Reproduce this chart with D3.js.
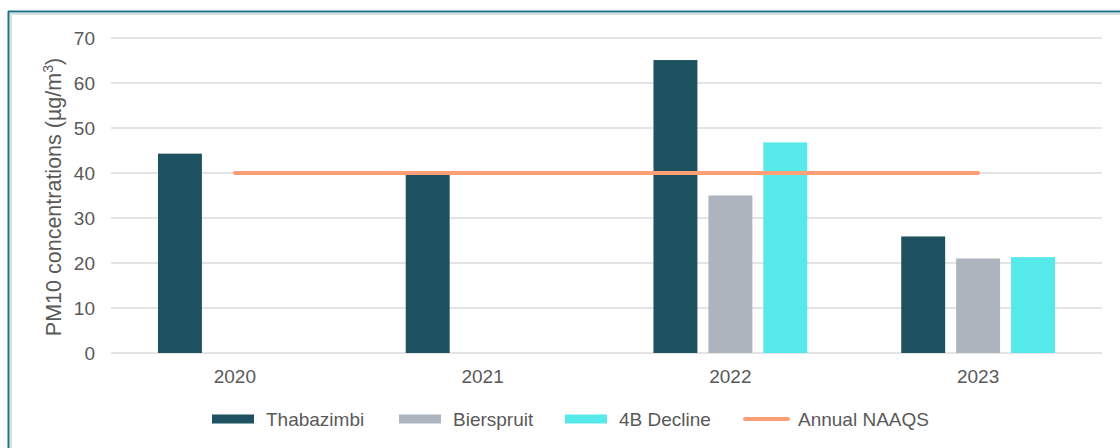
<!DOCTYPE html>
<html><head><meta charset="utf-8">
<script src="https://cdn.jsdelivr.net/npm/d3@7"></script>
<style>body{margin:0;background:#fff}svg{display:block}text{font-family:"Liberation Sans",Arial,sans-serif;fill:#595959}</style>
</head><body>
<svg id="c" width="1120" height="448"></svg>
<script>
const categories = ["2020","2021","2022","2023"];
const seriesNames = ["Thabazimbi","Bierspruit","4B Decline"];
const thabazimbi = [44.3, 39.6, 65.1, 25.9];
const bierspruit = [null, null, 35.0, 21.0];
const decline4B = [null, null, 46.8, 21.3];
const naaqs = [40, 40, 40, 40];
const yTicks = [0,10,20,30,40,50,60,70];
const legendLabels = ["Thabazimbi","Bierspruit","4B Decline","Annual NAAQS"];
const colors = ["#1F5261","#ACB5BE","#55E9E9"];
const lineColor = "#FF9F78";

(function(){
const seriesValues = [thabazimbi, bierspruit, decline4B];
const svg = d3.select("#c");

// frame
svg.append("line").attr("x1",8).attr("x2",1120).attr("y1",11.5).attr("y2",11.5).attr("stroke","#1C7486").attr("stroke-width",2);
svg.append("line").attr("x1",10).attr("x2",1120).attr("y1",14).attr("y2",14).attr("stroke","#D8E0E3").attr("stroke-width",2);
svg.append("line").attr("x1",8.5).attr("x2",8.5).attr("y1",11).attr("y2",448).attr("stroke","#1C7486").attr("stroke-width",2);
svg.append("line").attr("x1",11).attr("x2",11).attr("y1",13).attr("y2",448).attr("stroke","#D8E0E3").attr("stroke-width",2);

const mLeft = 111, mRight = 1102, mTop = 38, mBottom = 353;
const x0 = d3.scaleBand().domain(categories).range([mLeft,mRight]).paddingInner(0).paddingOuter(0);
const x1 = d3.scaleBand().domain(seriesNames).range([0,x0.bandwidth()]).paddingInner(0.2).paddingOuter(0.855);
const y = d3.scaleLinear().domain([0,70]).range([mBottom,mTop]);

// grid
svg.append("g").selectAll("line").data(yTicks).join("line")
  .attr("x1",mLeft).attr("x2",mRight).attr("y1",d=>y(d)).attr("y2",d=>y(d))
  .attr("stroke","#E4E4E4").attr("stroke-width",2);

// y axis labels
const yAxis = svg.append("g").attr("transform",`translate(${mLeft},0)`)
  .call(d3.axisLeft(y).tickValues(yTicks).tickSize(0).tickPadding(16));
yAxis.select(".domain").remove();
yAxis.selectAll("text").attr("font-size",19).attr("fill","#595959").attr("font-family","Liberation Sans, Arial, sans-serif");

// x axis labels
const xAxis = svg.append("g").attr("transform",`translate(0,${mBottom})`)
  .call(d3.axisBottom(x0).tickSize(0).tickPadding(17));
xAxis.select(".domain").remove();
xAxis.selectAll("text").attr("font-size",19).attr("fill","#595959").attr("font-family","Liberation Sans, Arial, sans-serif");

// bars
seriesNames.forEach((s,si)=>{
  const data = categories.map((c,i)=>({c, v: seriesValues[si][i]})).filter(d=>d.v!=null);
  svg.append("g").selectAll("rect").data(data).join("rect")
    .attr("x",d=>x0(d.c)+x1(s)).attr("width",x1.bandwidth())
    .attr("y",d=>y(d.v)).attr("height",d=>y(0)-y(d.v))
    .attr("fill",colors[si]);
});

// NAAQS line
const line = d3.line().x((d,i)=>x0(categories[i])+x0.bandwidth()/2).y(d=>y(d));
svg.append("path").datum(naaqs).attr("d",line).attr("fill","none")
  .attr("stroke",lineColor).attr("stroke-width",4).attr("stroke-linecap","round");

// y title
svg.append("text").attr("transform","translate(61,197) rotate(-90)")
  .attr("text-anchor","middle").attr("font-size",21.5).attr("fill","#595959")
  .html('PM10 concentrations (µg/m<tspan dy="-8" font-size="14">3</tspan><tspan dy="8">)</tspan>');

// legend
const legendX = [212, 399, 565, 744];
const ly = 419;
legendLabels.forEach((lab,i)=>{
  const g = svg.append("g").attr("transform",`translate(${legendX[i]},${ly})`);
  if(i<3){
    g.append("rect").attr("x",0).attr("y",-4.5).attr("width",42).attr("height",9).attr("fill",colors[i]);
  } else {
    g.append("line").attr("x1",1).attr("x2",44).attr("y1",0).attr("y2",0).attr("stroke",lineColor).attr("stroke-width",4).attr("stroke-linecap","round");
  }
  g.append("text").attr("x",54).attr("y",0).attr("dy","0.35em").attr("font-size",19).attr("fill","#595959").text(lab);
});
})();
</script>
</body></html>
